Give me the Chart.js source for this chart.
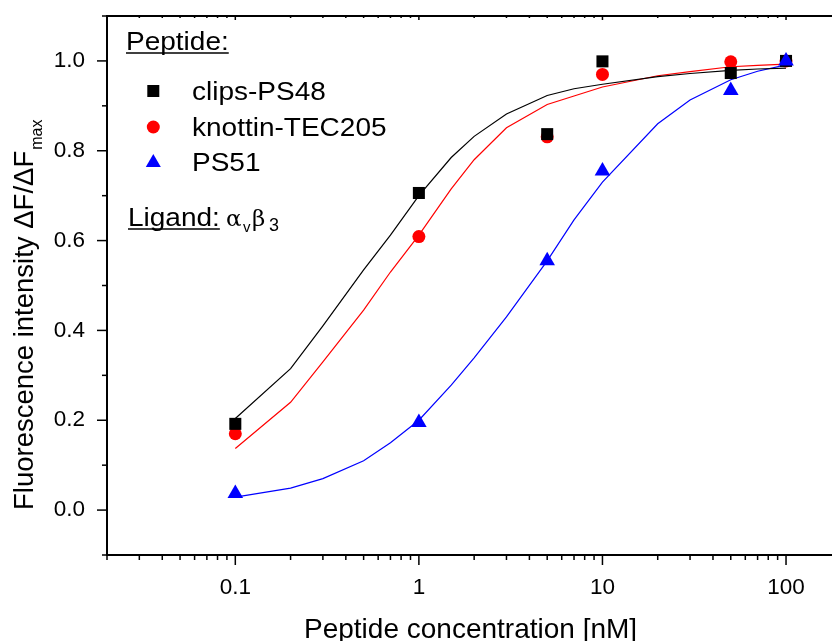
<!DOCTYPE html>
<html lang="en">
<head>
<meta charset="UTF-8">
<title>Peptide binding curves</title>
<script src="https://cdn.jsdelivr.net/npm/chart.js"></script>
<style>
  body { margin: 0; background: #fff; }
  #wrap { width: 832px; height: 641px; overflow: hidden; }
</style>
</head>
<body>
<div id="wrap"><canvas id="chart" width="832" height="641"></canvas></div>
<script>
// measured points
const concentrations = [0.1, 1, 5, 10, 50, 100];
const clipsPS48 = [0.192, 0.706, 0.837, 0.999, 0.973, 1.0];
const knottinTEC205 = [0.170, 0.609, 0.831, 0.970, 0.998, 1.0];
const ps51 = [0.037, 0.195, 0.555, 0.755, 0.934, 1.0];

// fitted curves
const fitConc = [0.1, 0.2, 0.3, 0.5, 0.7, 1, 1.5, 2, 3, 5, 7, 10, 20, 30, 50, 70, 100];
const fitClips = [0.204, 0.315, 0.41, 0.535, 0.612, 0.70, 0.785, 0.832, 0.882, 0.923, 0.938, 0.948, 0.965, 0.972, 0.979, 0.982, 0.984];
const fitKnottin = [0.137, 0.240, 0.33, 0.445, 0.53, 0.612, 0.715, 0.78, 0.851, 0.903, 0.922, 0.942, 0.967, 0.976, 0.987, 0.990, 0.993];
const fitPS51 = [0.029, 0.049, 0.070, 0.11, 0.15, 0.20, 0.278, 0.339, 0.430, 0.555, 0.646, 0.730, 0.860, 0.913, 0.958, 0.977, 0.991];

// axis ticks
const xTicks = [0.02, 0.03, 0.04, 0.05, 0.06, 0.07, 0.08, 0.09,
                0.1, 0.2, 0.3, 0.4, 0.5, 0.6, 0.7, 0.8, 0.9,
                1, 2, 3, 4, 5, 6, 7, 8, 9,
                10, 20, 30, 40, 50, 60, 70, 80, 90, 100];
const xLabelValues = [0.1, 1, 10, 100];
const xLabels = ['0.1', '1', '10', '100'];
const yTicks = [-0.1, 0.0, 0.1, 0.2, 0.3, 0.4, 0.5, 0.6, 0.7, 0.8, 0.9, 1.0, 1.1];
const yLabelValues = [0.0, 0.2, 0.4, 0.6, 0.8, 1.0];
const yLabels = ['0.0', '0.2', '0.4', '0.6', '0.8', '1.0'];

const SANS = '"Liberation Sans", Arial, sans-serif';

function pts(xs, ys) {
    return xs.map((v, i) => ({ x: v, y: ys[i] }));
}

function curve(data, color) {
    return { data: data, showLine: true, borderColor: color, borderWidth: 1.2,
             pointRadius: 0, fill: false, order: 10 };
}

function marks(data, color, style, r, order) {
    return { data: data, showLine: false, pointStyle: style, pointRadius: r,
             backgroundColor: color, borderColor: color, borderWidth: 0, order: order };
}

// frame, tick marks, axis titles and the legend box
const decorations = {
    id: 'decorations',
    afterDraw(chart) {
        const { ctx, chartArea: a, scales: { x, y } } = chart;
        ctx.save();
        ctx.strokeStyle = '#000';
        ctx.lineWidth = 2;
        ctx.beginPath();
        ctx.moveTo(a.left - 1, a.top);
        ctx.lineTo(a.right, a.top);
        ctx.stroke();

        ctx.lineWidth = 1.5;
        xTicks.forEach(v => {
            const px = x.getPixelForValue(v);
            const major = xLabelValues.includes(v);
            ctx.beginPath();
            ctx.moveTo(px, a.bottom);
            ctx.lineTo(px, a.bottom + (major ? 10 : 5));
            ctx.moveTo(px, a.top);
            ctx.lineTo(px, a.top + (major ? 4 : 2));
            ctx.stroke();
        });
        yTicks.forEach(v => {
            const py = y.getPixelForValue(v);
            const major = yLabelValues.includes(v);
            ctx.beginPath();
            ctx.moveTo(a.left, py);
            ctx.lineTo(a.left - (major ? 10 : 5), py);
            ctx.stroke();
        });

        ctx.fillStyle = '#000';
        ctx.textAlign = 'left';
        ctx.textBaseline = 'alphabetic';

        // x title
        ctx.font = '28px ' + SANS;
        ctx.fillText('Peptide concentration [nM]', 304, 638);

        // y title with subscript
        ctx.save();
        ctx.translate(33, 510);
        ctx.rotate(-Math.PI / 2);
        ctx.font = '27.5px ' + SANS;
        const main = 'Fluorescence intensity \u0394F/\u0394F';
        ctx.fillText(main, 0, 0);
        const w = ctx.measureText(main).width;
        ctx.font = '16px ' + SANS;
        ctx.fillText('max', w + 1, 9);
        ctx.restore();

        // legend (text is slightly wide in the original)
        const sx = 1.12;
        function wide(text, px, py, underline) {
            ctx.save();
            ctx.translate(px, py);
            ctx.scale(sx, 1);
            ctx.font = '25px ' + SANS;
            ctx.fillText(text, 0, 0);
            const tw = ctx.measureText(text).width;
            ctx.restore();
            if (underline) {
                ctx.lineWidth = 1.6;
                ctx.beginPath();
                ctx.moveTo(px, py + 3);
                ctx.lineTo(px + tw * sx, py + 3);
                ctx.stroke();
            }
            return tw * sx;
        }
        wide('Peptide:', 126, 50, true);
        wide('clips-PS48', 192, 100, false);
        wide('knottin-TEC205', 192, 136, false);
        wide('PS51', 192, 171, false);

        ctx.fillStyle = '#000';
        ctx.fillRect(153.3 - 6, 91 - 6, 12, 12);
        ctx.fillStyle = '#ff0000';
        ctx.beginPath();
        ctx.arc(153.3, 127, 6.5, 0, Math.PI * 2);
        ctx.fill();
        ctx.fillStyle = '#0000ff';
        ctx.beginPath();
        ctx.moveTo(153.3, 154);
        ctx.lineTo(153.3 + 7.5, 167);
        ctx.lineTo(153.3 - 7.5, 167);
        ctx.closePath();
        ctx.fill();

        ctx.fillStyle = '#000';
        wide('Ligand:', 128, 226, true);
        ctx.font = '23px "DejaVu Serif", serif';
        ctx.fillText('\u03b1', 226, 226);
        ctx.font = '15px ' + SANS;
        ctx.fillText('v', 243, 232);
        ctx.font = '23px "DejaVu Serif", serif';
        ctx.fillText('\u03b2', 252, 226);
        ctx.font = '18px ' + SANS;
        ctx.fillText('3', 269, 231);
        ctx.restore();
    }
};

new Chart(document.getElementById('chart'), {
    type: 'scatter',
    data: {
        datasets: [
            marks(pts(concentrations, ps51), '#0000ff', 'triangle', 9, 1),
            marks(pts(concentrations, clipsPS48), '#000000', 'rect', 8.5, 2),
            marks(pts(concentrations, knottinTEC205), '#ff0000', 'circle', 6.5, 3),
            curve(pts(fitConc, fitClips), '#000000'),
            curve(pts(fitConc, fitKnottin), '#ff0000'),
            curve(pts(fitConc, fitPS51), '#0000ff')
        ]
    },
    options: {
        responsive: false,
        devicePixelRatio: 1,
        animation: false,
        layout: { autoPadding: false, padding: { top: 16, left: 0, right: 0, bottom: 0 } },
        plugins: { legend: { display: false }, tooltip: { enabled: false } },
        scales: {
            x: {
                type: 'logarithmic',
                min: 0.02,
                max: 178,
                afterBuildTicks: s => { s.ticks = xTicks.map(v => ({ value: v })); },
                afterFit: s => { s.height = 86; s.paddingLeft = 0; s.paddingRight = 0; },
                grid: { display: false, drawTicks: false },
                border: { display: true, color: '#000', width: 2 },
                ticks: {
                    autoSkip: false, maxRotation: 0, padding: 19, color: '#000',
                    font: { family: SANS, size: 22.5 },
                    callback: v => {
                        const i = xLabelValues.indexOf(v);
                        return i >= 0 ? xLabels[i] : '';
                    }
                }
            },
            y: {
                min: -0.1,
                max: 1.1,
                afterBuildTicks: s => { s.ticks = yTicks.map(v => ({ value: v })); },
                afterFit: s => { s.width = 107; s.paddingTop = 0; s.paddingBottom = 0; },
                grid: { display: false, drawTicks: false },
                border: { display: true, color: '#000', width: 2 },
                ticks: {
                    autoSkip: false, padding: 22, color: '#000',
                    font: { family: SANS, size: 22.5 },
                    callback: v => {
                        const i = yLabelValues.findIndex(t => Math.abs(t - v) < 1e-9);
                        return i >= 0 ? yLabels[i] : '';
                    }
                }
            }
        }
    },
    plugins: [decorations]
});
</script>
</body>
</html>
